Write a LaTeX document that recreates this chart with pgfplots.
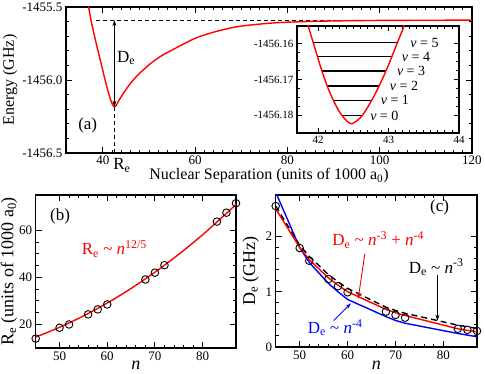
\documentclass[border=0pt]{standalone}
\usepackage{fontspec}
\setmainfont{Liberation Serif}
\usepackage{pgfplots}
\pgfplotsset{compat=1.18}
\usetikzlibrary{arrows.meta}

% energies are stored relative to -1456 GHz (main panel) and to -1456.17 GHz in MHz (inset),
% so that TeX arithmetic keeps enough digits
\pgfplotsset{
  grace/.style={
    scale only axis, anchor=south west, clip mode=individual,
    axis line style={line width=1.3pt},
    every tick/.style={black, line width=0.9pt},
    major tick length=6pt, minor tick length=3.2pt,
    tick label style={font=\fontsize{13}{15}\selectfont},
    label style={font=\fontsize{16}{18}\selectfont},
    /pgf/number format/assume math mode=true,
  },
  circ/.style={only marks, mark=o, mark size=3.8pt, black, line width=0.9pt},
}
\newcommand{\ann}{\fontsize{17}{19}\selectfont}

\begin{document}
\begin{tikzpicture}
\useasboundingbox (0,0) rectangle (485pt,374pt);

% ---------------- (a) potential curve ----------------
\begin{axis}[grace, at={(66pt,221pt)}, width=406pt, height=146pt,
  xmin=32, xmax=120, ymin=-0.5, ymax=0.5,
  xtick={40,60,80,100,120}, minor x tick num=9,
  ytick={-0.5,0,0.5}, yticklabels={-1456.5,-1456.0,-1455.5}, minor y tick num=4,
  xticklabel style={yshift=1pt},
  xlabel={Nuclear Separation (units of 1000 a\textsubscript{0})},
  ylabel={Energy (GHz)},
  xlabel style={at={(axis description cs:0.5,-0.158)}, anchor=center},
  ylabel style={at={(axis description cs:-0.138,0.5)}, anchor=center},
]
\addplot[black, line width=0.9pt, dash pattern=on 4pt off 3pt] coordinates {(38.6,0.410) (120,0.410)};
\addplot[black, line width=0.9pt, dash pattern=on 4pt off 3pt] coordinates {(42.5,-0.183) (42.5,-0.5)};
\addplot[red, line width=1.4pt, smooth] coordinates {
(36.0,0.627) (36.5,0.562) (37.0,0.482) (37.5,0.397) (38.5,0.257) (39.5,0.127)
(40.5,-0.003) (41.0,-0.063) (41.5,-0.118) (41.75,-0.143) (42.0,-0.163) (42.25,-0.177)
(42.5,-0.183) (42.75,-0.179) (43.0,-0.169) (43.25,-0.153) (43.5,-0.138) (44.0,-0.113)
(44.5,-0.088) (45.5,-0.043) (46.5,-0.003) (47.5,0.032) (48.5,0.062) (50.5,0.117)
(52.5,0.162) (54.5,0.197) (57.5,0.247) (60.5,0.292) (64.5,0.332) (69.5,0.367)
(77.5,0.392) (87.5,0.403) (100,0.408) (120,0.410)};
\draw[{Stealth[length=6pt,width=4pt]}-{Stealth[length=6pt,width=4pt]}, line width=0.9pt]
  (axis cs:42.5,0.410) -- (axis cs:42.5,-0.183);
\node[anchor=west, font=\ann] at (axis cs:42.3,0.15) {D\textsubscript{e}};
\node[font=\ann] at (axis cs:36.7,-0.308) {(a)};
\node[anchor=north, font=\ann] at (axis cs:44.1,-0.5) [yshift=-2pt] {R\textsubscript{e}};
\end{axis}

% ---------------- inset: vibrational levels ----------------
\begin{axis}[grace, at={(297pt,241pt)}, width=162pt, height=107pt,
  axis background/.style={fill=white},
  tick label style={font=\fontsize{11}{13}\selectfont},
  major tick length=5pt, minor tick length=2.6pt,
  xmin=41.7, xmax=44, ymin=-15, ymax=15,
  xtick={42,43,44}, minor x tick num=9,
  ytick={-10,0,10}, yticklabels={-1456.18,-1456.17,-1456.16}, minor y tick num=3,
]
\addplot[black, line width=1.2pt] coordinates {(42.343,-10.2) (42.618,-10.2)};
\addplot[black, line width=1.2pt] coordinates {(42.217,-5.8) (42.760,-5.8)};
\addplot[black, line width=1.2pt] coordinates {(42.130,-1.8) (42.865,-1.8)};
\addplot[black, line width=1.2pt] coordinates {(42.053,2.4) (42.962,2.4)};
\addplot[black, line width=1.2pt] coordinates {(41.990,6.4) (43.046,6.4)};
\addplot[black, line width=1.2pt] coordinates {(41.932,10.3) (43.124,10.3)};
\addplot[red, line width=1.4pt, smooth] coordinates {
(41.78,21.6) (41.86,15.0) (41.95,9.1) (42.05,2.6) (42.15,-2.9) (42.25,-7.2)
(42.35,-10.4) (42.47,-12.4) (42.6,-10.7) (42.7,-7.9) (42.8,-4.4) (42.9,-0.4)
(43.0,4.1) (43.1,9.1) (43.22,15.0) (43.3,19.6)};
\node[anchor=west, font=\fontsize{14}{16}\selectfont] at (axis cs:42.69,-10.2) {\textit{v} = 0};
\node[anchor=west, font=\fontsize{14}{16}\selectfont] at (axis cs:42.84,-5.8) {\textit{v} = 1};
\node[anchor=west, font=\fontsize{14}{16}\selectfont] at (axis cs:42.97,-1.8) {\textit{v} = 2};
\node[anchor=west, font=\fontsize{14}{16}\selectfont] at (axis cs:43.07,2.4) {\textit{v} = 3};
\node[anchor=west, font=\fontsize{14}{16}\selectfont] at (axis cs:43.14,6.4) {\textit{v} = 4};
\node[anchor=west, font=\fontsize{14}{16}\selectfont] at (axis cs:43.26,10.3) {\textit{v} = 5};
\end{axis}

% ---------------- (b) R_e vs n ----------------
\begin{axis}[grace, at={(35.7pt,26pt)}, width=200.3pt, height=153pt,
  label style={font=\fontsize{18}{20}\selectfont},
  xmin=45, xmax=87, ymin=10, ymax=75,
  xtick={50,60,70,80}, minor x tick num=4,
  ytick={20,40,60}, minor y tick num=3,
  xlabel={\textit{n}},
  ylabel={R\textsubscript{e} (units of 1000 a\textsubscript{0})},
  xlabel style={at={(axis description cs:0.5,-0.111)}, anchor=center},
  ylabel style={at={(axis description cs:-0.133,0.5)}, anchor=center},
]
\addplot[red, line width=1.4pt, smooth] coordinates {
(45,14.6) (50,18.8) (55,23.6) (60,29.1) (65,35.3) (70,42.2) (75,49.8) (80,58.1) (85,67.2) (87,71.0)};
\addplot[circ] coordinates {
(45,14.0) (50,18.6) (52,20.0) (56,24.3) (58,26.4) (60,28.5)
(68,39.1) (70,42.0) (72,45.2) (83,63.7) (85,67.5) (87,71.5)};
\node[font=\ann] at (axis cs:50.1,66.1) {(b)};
\node[red, font=\ann] at (axis cs:61.5,52) {R\textsubscript{e} \textasciitilde{} \textit{n}\textsuperscript{12/5}};
\end{axis}

% ---------------- (c) D_e vs n ----------------
\begin{axis}[grace, at={(275.7pt,27pt)}, width=201.3pt, height=152pt,
  label style={font=\fontsize{18}{20}\selectfont},
  xmin=45, xmax=87, ymin=0, ymax=2.75,
  xtick={50,60,70,80}, minor x tick num=4,
  ytick={0,1,2}, minor y tick num=4,
  xlabel={\textit{n}},
  ylabel={D\textsubscript{e} (GHz)},
  xlabel style={at={(axis description cs:0.5,-0.118)}, anchor=center},
  ylabel style={at={(axis description cs:-0.124,0.5)}, anchor=center},
]
\addplot[blue, line width=1.4pt] coordinates {
(45,2.80) (50,1.80) (52,1.53) (56,1.15) (58,1.00) (60,0.86)
(68,0.55) (70,0.48) (72,0.43) (83,0.245) (85,0.215) (87,0.185)};
\addplot[black, line width=1.4pt, dash pattern=on 6pt off 4pt] coordinates {
(45,2.55) (50,1.84) (52,1.64) (56,1.31) (58,1.18) (60,1.06)
(68,0.72) (70,0.66) (72,0.61) (83,0.395) (85,0.365) (87,0.335)};
\addplot[red, line width=1.4pt] coordinates {
(45,2.50) (50,1.80) (52,1.58) (56,1.25) (58,1.12) (60,1.00)
(68,0.68) (70,0.62) (72,0.57) (83,0.33) (85,0.30) (87,0.275)};
\addplot[circ] coordinates {
(45,2.55) (50,1.79) (52,1.56) (56,1.23) (58,1.10) (60,0.99)
(68,0.64) (70,0.58) (72,0.53) (83,0.33) (85,0.31) (87,0.29)};
\node[font=\ann] at (axis cs:79.2,2.52) {(c)};
\node[red, font=\ann] at (axis cs:66.4,1.94) {D\textsubscript{e} \textasciitilde{} \textit{n}\textsuperscript{-3} + \textit{n}\textsuperscript{-4}};
\draw[red, line width=0.9pt, -{Stealth[length=6pt,width=4pt]}] (axis cs:63.6,1.69) -- (axis cs:62.2,0.87);
\node[black, font=\ann] at (axis cs:78.5,1.44) {D\textsubscript{e} \textasciitilde{} \textit{n}\textsuperscript{-3}};
\draw[black, line width=0.9pt, -{Stealth[length=6pt,width=4pt]}] (axis cs:78.75,1.30) -- (axis cs:78.75,0.475);
\node[blue, font=\ann] at (axis cs:57.4,0.35) {D\textsubscript{e} \textasciitilde{} \textit{n}\textsuperscript{-4}};
\draw[blue, line width=0.9pt, -{Stealth[length=6pt,width=4pt]}] (axis cs:57.1,0.48) -- (axis cs:60.7,0.79);
\end{axis}
\end{tikzpicture}
\end{document}
